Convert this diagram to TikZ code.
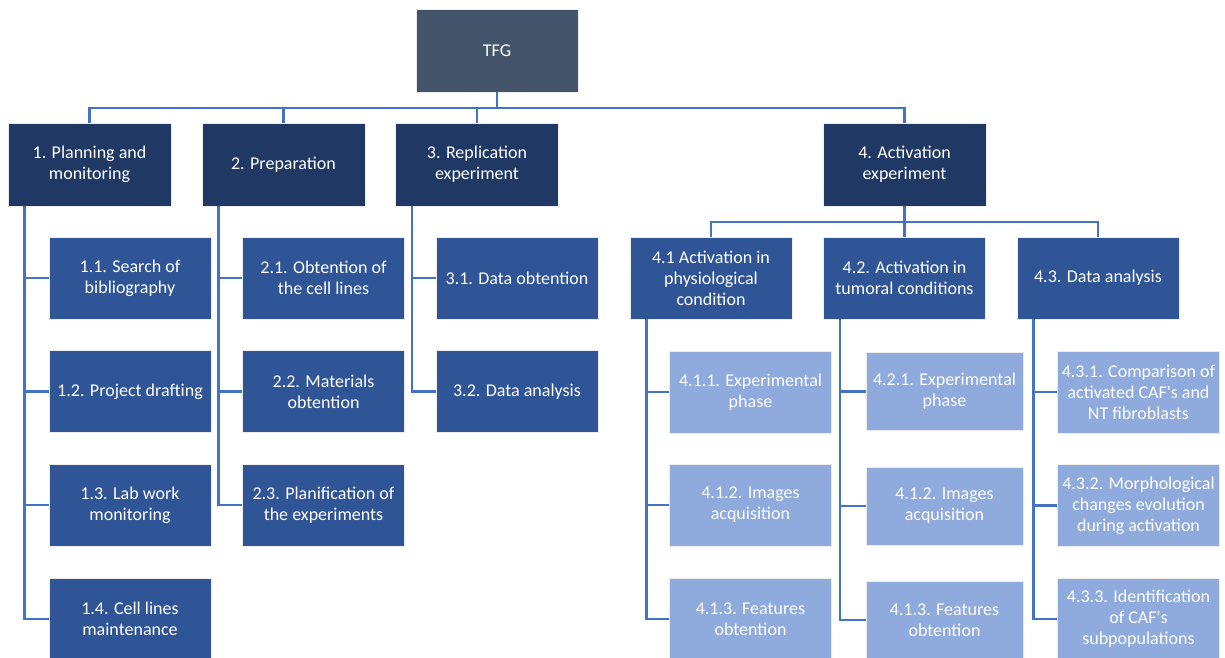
\documentclass[tikz,border=0pt]{standalone}
\usepackage{fontspec}
\setmainfont{Carlito}
\definecolor{cTop}{HTML}{44546A}
\definecolor{cDark}{HTML}{203864}
\definecolor{cMid}{HTML}{2F5597}
\definecolor{cLight}{HTML}{8FAADC}
\definecolor{cLine}{HTML}{4472C4}
\tikzset{
  box/.style={rectangle, draw=white!85!gray, line width=0.8pt, inner sep=0pt, align=center,
    text=white, font=\fontsize{18}{21}\selectfont, minimum width=162pt, minimum height=82pt},
  topbox/.style={box, fill=cTop, minimum width=162pt, minimum height=83pt},
  lvone/.style={box, fill=cDark, minimum width=163pt, minimum height=83pt},
  lvtwo/.style={box, fill=cMid},
  lvthree/.style={box, fill=cLight},
  lvthreesm/.style={box, fill=cLight, minimum width=157pt, minimum height=78pt},
  conn/.style={draw=cLine, line width=2.6pt},
}
\begin{document}
\begin{tikzpicture}[x=1pt,y=-1pt]
\useasboundingbox (0,0) rectangle (1225,657);
\clip (0,0) rectangle (1225,657);
% nodes
\node[topbox] (tfg) at (497,50.5) {TFG};
\node[lvone] (b1) at (89.5,164.5) {1. Planning and\\monitoring};
\node[lvone] (b2) at (283.5,164.5) {2. Preparation};
\node[lvone] (b3) at (477,164.5) {3. Replication\\experiment};
\node[lvone] (b4) at (904.5,164.5) {4. Activation\\experiment};
% group 1
\node[lvtwo] (b11) at (130,278) {1.1. Search of\\bibliography};
\node[lvtwo] (b12) at (130,391.5) {1.2. Project drafting};
\node[lvtwo] (b13) at (130,505) {1.3. Lab work\\monitoring};
\node[lvtwo] (b14) at (130,619) {1.4. Cell lines\\maintenance};
% group 2
\node[lvtwo] (b21) at (323.5,278) {2.1. Obtention of\\the cell lines};
\node[lvtwo] (b22) at (323.5,391.5) {2.2. Materials\\obtention};
\node[lvtwo] (b23) at (323.5,505) {2.3. Planification of\\the experiments};
% group 3
\node[lvtwo] (b31) at (517,278) {3.1. Data obtention};
\node[lvtwo] (b32) at (517,391.5) {3.2. Data analysis};
% group 4
\node[lvtwo] (b41) at (711,278) {4.1 Activation in\\physiological\\condition};
\node[lvtwo] (b42) at (904.5,278) {4.2. Activation in\\tumoral conditions};
\node[lvtwo] (b43) at (1098,278) {4.3. Data analysis};
\node[lvthree] (b411) at (750.5,392) {4.1.1. Experimental\\phase};
\node[lvthree] (b412) at (750.5,505) {4.1.2. Images\\acquisition};
\node[lvthree] (b413) at (750.5,619) {4.1.3. Features\\obtention};
\node[lvthreesm] (b421) at (944.5,391.5) {4.2.1. Experimental\\phase};
\node[lvthreesm] (b422) at (944.5,506) {4.1.2. Images\\acquisition};
\node[lvthreesm] (b423) at (944.5,620) {4.1.3. Features\\obtention};
\node[lvthree] (b431) at (1138.5,392) {4.3.1. Comparison of\\activated CAF\textquotesingle s and\\NT fibroblasts};
\node[lvthree] (b432) at (1138.5,505.5) {4.3.2. Morphological\\changes evolution\\during activation};
\node[lvthree] (b433) at (1138.5,619) {4.3.3. Identification\\of CAF\textquotesingle s\\subpopulations};
% coordinates
\coordinate (bar) at (497,108);
\coordinate (bar4) at (904.5,222);
\coordinate (c1) at ([xshift=17pt]b1.south west);
\coordinate (c2) at ([xshift=17pt]b2.south west);
\coordinate (c3) at ([xshift=17pt]b3.south west);
\coordinate (c41) at ([xshift=17pt]b41.south west);
\coordinate (c42) at ([xshift=17pt]b42.south west);
\coordinate (c43) at ([xshift=17pt]b43.south west);
% connectors
\draw[conn] (tfg.south) -- (tfg.south |- bar);
\draw[conn] (b1.north) -- (b1.north |- bar) -| (b4.north);
\draw[conn] (b2.north) -- (b2.north |- bar);
\draw[conn] (b3.north) -- (b3.north |- bar);
\draw[conn] (b4.south) -- (bar4);
\draw[conn] (b41.north) -- (b41.north |- bar4) -| (b43.north);
\draw[conn] (b42.north) -- (bar4);
\draw[conn] (c1) |- (b11.west);
\draw[conn] (c1) |- (b12.west);
\draw[conn] (c1) |- (b13.west);
\draw[conn] (c1) |- (b14.west);
\draw[conn] (c2) |- (b21.west);
\draw[conn] (c2) |- (b22.west);
\draw[conn] (c2) |- (b23.west);
\draw[conn] (c3) |- (b31.west);
\draw[conn] (c3) |- (b32.west);
\draw[conn] (c41) |- (b411.west);
\draw[conn] (c41) |- (b412.west);
\draw[conn] (c41) |- (b413.west);
\draw[conn] (c42) |- (b421.west);
\draw[conn] (c42) |- (b422.west);
\draw[conn] (c42) |- (b423.west);
\draw[conn] (c43) |- (b431.west);
\draw[conn] (c43) |- (b432.west);
\draw[conn] (c43) |- (b433.west);
\end{tikzpicture}
\end{document}
